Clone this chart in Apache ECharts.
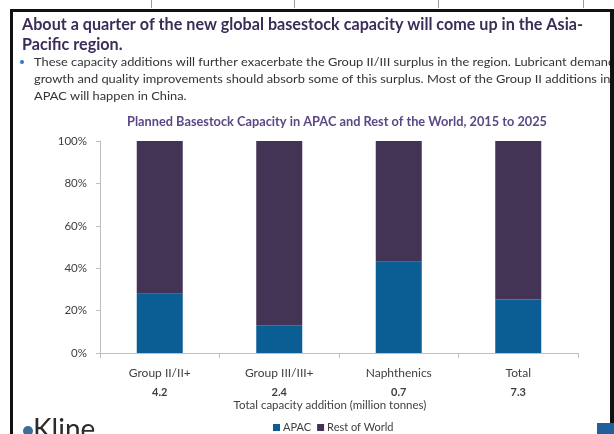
<!DOCTYPE html>
<html>
<head>
<meta charset="utf-8">
<script src="https://cdn.jsdelivr.net/npm/echarts@6/dist/echarts.min.js"></script>
<style>
  html, body { margin: 0; padding: 0; background: #ffffff; }
  #chart { width: 614px; height: 434px; }
</style>
</head>
<body>
<div id="chart"></div>
<script>
// Planned basestock capacity additions, 2015-2025: share built in APAC vs. rest of world
const categories = ['Group II/II+', 'Group III/III+', 'Naphthenics', 'Total'];
const totalAdditions = ['4.2', '2.4', '0.7', '7.3'];          // million tonnes
const apacShare = [27.9, 13.1, 43.0, 25.2];                    // %
const restOfWorldShare = [72.1, 86.9, 57.0, 74.8];             // %
const seriesNames = ['APAC', 'Rest of World'];
const yTickValues = [0, 20, 40, 60, 80, 100];

const headline1 = 'About a quarter of the new global basestock capacity will come up in the Asia-';
const headline2 = 'Pacific region.';
const bullet1 = 'These capacity additions will further exacerbate the Group II/III surplus in the region. Lubricant demand';
const bullet2 = 'growth and quality improvements should absorb some of this surplus. Most of the Group II additions in';
const bullet3 = 'APAC will happen in China.';
const chartTitle = 'Planned Basestock Capacity in APAC and Rest of the World, 2015 to 2025';
const axisTitle = 'Total capacity addition (million tonnes)';

const BLUE = '#0b5e94';
const PURPLE = '#433355';
const FONT = 'Lato, "Open Sans", sans-serif';

// horizontal squeeze so the Lato text spans the same width as the slide's narrower face
const measureCtx = document.createElement('canvas').getContext('2d');
function squeeze(text, font, width) {
  measureCtx.font = font;
  return width / measureCtx.measureText(text).width;
}
function slideText(text, x, y, font, fill, width, measured) {
  return {
    type: 'text', x: x, y: y, z: 10,
    scaleX: width ? squeeze(measured || text, font, width) : 1,
    style: { text: text, font: font, fill: fill, align: 'left', verticalAlign: 'middle',
             textAlign: 'left', textVerticalAlign: 'middle' }
  };
}

const headFont = 'bold 17.5px ' + FONT;
const bodyFont = '12px ' + FONT;
const headScale = squeeze(headline1, headFont, 561);
const bodyScale = squeeze('These capacity additions will further exacerbate the Group II/III surplus in the region. Lubricant deman', bodyFont, 574);

const chart = echarts.init(document.getElementById('chart'), null, { renderer: 'canvas' });

chart.setOption({
  backgroundColor: '#ffffff',
  animation: false,
  textStyle: { fontFamily: FONT },
  grid: { left: 100, right: 36, top: 141, bottom: 81, containLabel: false },
  legend: {
    data: seriesNames,
    left: 268, top: 417,
    itemWidth: 7, itemHeight: 7, itemGap: 6,
    icon: 'rect',
    textStyle: { fontSize: 11, color: '#404040', padding: [0, 0, 0, -2] }
  },
  xAxis: {
    type: 'category',
    data: categories,
    axisLine: { lineStyle: { color: '#bfbfbf', width: 1 } },
    axisTick: { show: true, length: 5, lineStyle: { color: '#bfbfbf' } },
    axisLabel: {
      margin: 10,
      formatter: function (value, idx) {
        return '{c|' + value + '}\n{v|' + totalAdditions[idx] + '}';
      },
      rich: {
        c: { fontSize: 12, color: '#404040', lineHeight: 20, fontFamily: FONT },
        v: { fontSize: 11, fontWeight: 'bold', color: '#404040', lineHeight: 18, fontFamily: FONT }
      }
    },
    name: axisTitle,
    nameLocation: 'middle',
    nameGap: 46,
    nameTextStyle: { fontSize: 11.5, color: '#404040', padding: [0, 18, 0, 0] }
  },
  yAxis: {
    type: 'value',
    min: 0, max: 100, interval: 20,
    axisLine: { show: true, lineStyle: { color: '#bfbfbf', width: 1 } },
    axisTick: { show: true, length: 4, lineStyle: { color: '#bfbfbf' } },
    splitLine: { show: false },
    axisLabel: {
      margin: 13,
      fontSize: 11.5, color: '#404040',
      customValues: yTickValues,
      formatter: '{value}%'
    }
  },
  series: [
    {
      name: seriesNames[0], type: 'bar', stack: 'share',
      data: apacShare, barWidth: 46,
      itemStyle: { color: BLUE }
    },
    {
      name: seriesNames[1], type: 'bar', stack: 'share',
      data: restOfWorldShare, barWidth: 46,
      itemStyle: { color: PURPLE }
    }
  ],
  graphic: [
    // faint marks above the slide frame
    { type: 'line', shape: { x1: 151.5, y1: 0, x2: 151.5, y2: 8 }, style: { stroke: '#9a9a9a', lineWidth: 1 } },
    { type: 'line', shape: { x1: 294.5, y1: 0, x2: 294.5, y2: 8 }, style: { stroke: '#9a9a9a', lineWidth: 1 } },
    { type: 'line', shape: { x1: 438.5, y1: 0, x2: 438.5, y2: 8 }, style: { stroke: '#9a9a9a', lineWidth: 1 } },
    { type: 'line', shape: { x1: 583.5, y1: 0, x2: 583.5, y2: 8 }, style: { stroke: '#9a9a9a', lineWidth: 1 } },

    // slide frame
    { type: 'rect', z: 20, shape: { x: 10, y: 9, width: 3, height: 425 }, style: { fill: '#111111' } },
    { type: 'rect', z: 20, shape: { x: 10, y: 9, width: 604, height: 3 }, style: { fill: '#111111' } },
    { type: 'rect', z: 20, shape: { x: 610, y: 9, width: 4, height: 414 }, style: { fill: '#111111' } },
    { type: 'rect', z: 20, shape: { x: 597, y: 423, width: 17, height: 11 }, style: { fill: '#1f5f9c' } },

    // headline
    Object.assign(slideText(headline1, 22, 24, headFont, '#3b2d58'), { scaleX: headScale }),
    Object.assign(slideText(headline2, 22, 44, headFont, '#3b2d58'), { scaleX: headScale }),

    // bullet
    { type: 'circle', z: 10, shape: { cx: 22, cy: 62, r: 2 }, style: { fill: '#2f78c4' } },
    Object.assign(slideText(bullet1, 34, 62, bodyFont, '#333333'), { scaleX: bodyScale }),
    Object.assign(slideText(bullet2, 34, 79, bodyFont, '#333333'), { scaleX: bodyScale }),
    Object.assign(slideText(bullet3, 34, 96, bodyFont, '#333333'), { scaleX: bodyScale }),

    // chart title
    slideText(chartTitle, 127, 122, 'bold 12.5px ' + FONT, '#5b4786', 420),

    // logo
    { type: 'circle', z: 10, shape: { cx: 28, cy: 431, r: 5 }, style: { fill: '#3a6f9a' } },
    { type: 'text', z: 10, x: 33, y: 416,
      style: { text: 'Kline', font: '28px ' + FONT, fill: '#2b2b2b', align: 'left', verticalAlign: 'top',
               textAlign: 'left', textVerticalAlign: 'top' } }
  ]
});
</script>
</body>
</html>
